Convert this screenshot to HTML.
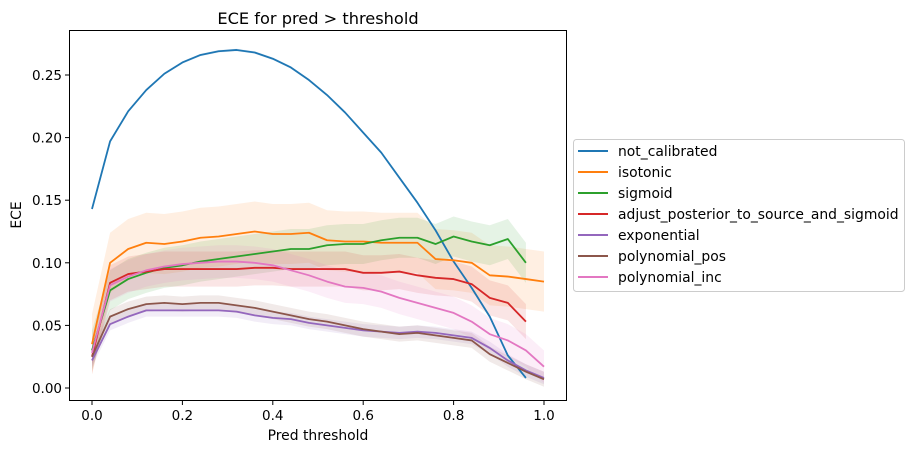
<!DOCTYPE html>
<html><head><meta charset="utf-8"><style>
body{margin:0;background:#fff;width:914px;height:453px;overflow:hidden}
text{font-family:"DejaVu Sans","Liberation Sans",sans-serif;fill:#000}
</style></head><body>
<svg id="chart" width="914" height="453" xmlns="http://www.w3.org/2000/svg">
<rect x="0" y="0" width="914" height="453" fill="#fff"/>
<text x="318" y="24" font-size="16.2" text-anchor="middle">ECE for pred &gt; threshold</text>
<g id="bands"></g><g id="lines"></g><g id="axes"></g><g id="legend"></g>
</svg>
<script>
const xTicks = [0, 0.2, 0.4, 0.6, 0.8, 1.0];
const xTickLabels = ["0.0","0.2","0.4","0.6","0.8","1.0"];
const yTicks = [0, 0.05, 0.10, 0.15, 0.20, 0.25];
const yTickLabels = ["0.00","0.05","0.10","0.15","0.20","0.25"];
const seriesNames = ["not_calibrated","isotonic","sigmoid","adjust_posterior_to_source_and_sigmoid","exponential","polynomial_pos","polynomial_inc"];
const seriesColors = ["#1f77b4","#ff7f0e","#2ca02c","#d62728","#9467bd","#8c564b","#e377c2"];
const notCalibrated = [0.143,0.197,0.221,0.238,0.251,0.260,0.266,0.269,0.270,0.268,0.263,0.256,0.246,0.234,0.220,0.204,0.188,0.168,0.148,0.126,0.101,0.080,0.057,0.026,0.008];
const isotonic = [0.035,0.100,0.111,0.116,0.115,0.117,0.120,0.121,0.123,0.125,0.123,0.123,0.124,0.118,0.117,0.117,0.116,0.116,0.116,0.103,0.102,0.100,0.090,0.089,0.087,0.085];
const sigmoid = [0.030,0.078,0.087,0.092,0.096,0.098,0.101,0.103,0.105,0.107,0.109,0.111,0.111,0.114,0.115,0.115,0.118,0.120,0.120,0.115,0.121,0.117,0.114,0.119,0.100];
const adjustSigmoid = [0.025,0.084,0.091,0.093,0.095,0.095,0.095,0.095,0.095,0.096,0.096,0.095,0.095,0.095,0.095,0.092,0.092,0.093,0.090,0.088,0.087,0.083,0.072,0.068,0.053];
const exponential = [0.022,0.051,0.057,0.062,0.062,0.062,0.062,0.062,0.061,0.058,0.056,0.055,0.052,0.050,0.048,0.046,0.045,0.044,0.045,0.044,0.042,0.040,0.032,0.022,0.014,0.008];
const polynomialPos = [0.025,0.057,0.063,0.067,0.068,0.067,0.068,0.068,0.066,0.064,0.061,0.058,0.055,0.053,0.050,0.047,0.045,0.043,0.044,0.042,0.040,0.038,0.027,0.020,0.013,0.007];
const polynomialInc = [0.028,0.082,0.089,0.094,0.097,0.099,0.100,0.101,0.101,0.100,0.098,0.094,0.090,0.085,0.081,0.080,0.077,0.072,0.068,0.064,0.060,0.053,0.043,0.038,0.030,0.017];
const bandHalfWidths = [0.001,0.024,0.016,0.014,0.005,0.006,0.013];
const xStep = 0.04;

const NS="http://www.w3.org/2000/svg";
const X0=92, X1=544, Y0=388, Y25=75;
const sx = v => X0 + v*(X1-X0);
const sy = v => Y0 - v*(Y0-Y25)/0.25;
function mk(tag, attrs, parent){const e=document.createElementNS(NS,tag);for(const k in attrs)e.setAttribute(k,attrs[k]);parent.appendChild(e);return e;}
const allSeries=[notCalibrated,isotonic,sigmoid,adjustSigmoid,exponential,polynomialPos,polynomialInc];
const bands=document.getElementById('bands'), lines=document.getElementById('lines');
allSeries.forEach((s,i)=>{
  const hw=bandHalfWidths[i];
  const up=s.map((v,j)=>sx(j*xStep)+','+sy(v+hw));
  const dn=s.map((v,j)=>sx(j*xStep)+','+sy(Math.max(0,v-hw))).reverse();
  const b=mk('polygon',{points:up.concat(dn).join(' '),fill:seriesColors[i],'fill-opacity':0.12,stroke:'none'},bands);
  
  
  const l=mk('polyline',{points:s.map((v,j)=>sx(j*xStep)+','+sy(v)).join(' '),fill:'none',stroke:seriesColors[i],'stroke-width':1.8,'stroke-linejoin':'round'},lines);
  
  
});
const axes=document.getElementById('axes');
const frame=mk('rect',{x:69.5,y:30.5,width:497,height:370,fill:'none',stroke:'#000','stroke-width':1},axes);


xTicks.forEach((t,i)=>{
  const x=sx(t);
  mk('line',{x1:x,x2:x,y1:401,y2:405,stroke:'#000'},axes);
  const tx=mk('text',{x:x,y:420,'font-size':13.5,'text-anchor':'middle'},axes);
  tx.textContent=xTickLabels[i];
  
  
});
yTicks.forEach((t,i)=>{
  const y=sy(t);
  mk('line',{x1:65,x2:69.5,y1:y,y2:y,stroke:'#000'},axes);
  const tx=mk('text',{x:62,y:y+5,'font-size':13.5,'text-anchor':'end'},axes);
  tx.textContent=yTickLabels[i];
  
  
});
const xl=mk('text',{x:318,y:440,'font-size':13.9,'text-anchor':'middle'},axes);
xl.textContent='Pred threshold';


const yl=mk('text',{x:0,y:0,'font-size':13.9,'text-anchor':'middle',transform:'translate(21,215) rotate(-90)'},axes);
yl.textContent='ECE';


const lg=document.getElementById('legend');
const box=mk('rect',{x:573.5,y:139.5,width:331,height:152,rx:3,fill:'#fff',stroke:'#ccc'},lg);


seriesNames.forEach((n,i)=>{
  const y=151+i*21;
  const g=mk('g',{},lg);
  
  
  mk('line',{x1:578,x2:608,y1:y,y2:y,stroke:seriesColors[i],'stroke-width':2},g);
  const t=mk('text',{x:618,y:y+5,'font-size':13.9},g);
  t.textContent=n;
});
</script>
</body></html>
